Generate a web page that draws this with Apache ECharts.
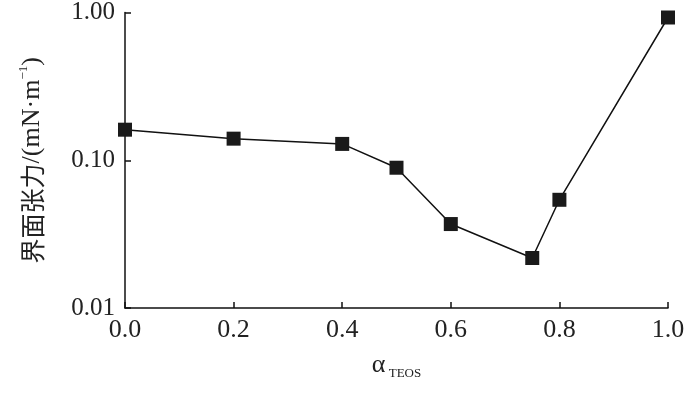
<!DOCTYPE html>
<html><head><meta charset="utf-8">
<script src="https://cdn.jsdelivr.net/npm/echarts@6/dist/echarts.min.js"></script>
<style>html,body{margin:0;padding:0;background:#fff}#c{width:700px;height:394px}</style>
</head><body><div id="c"></div>
<script>
var xValues = [0.0, 0.2, 0.4, 0.5, 0.6, 0.75, 0.8, 1.0];
var tension = [0.161, 0.140, 0.129, 0.089, 0.037, 0.0218, 0.054, 0.925];
var yTickLabels = {0.01: '0.01', 0.1: '0.10', 1: '1.00'};

var chart = echarts.init(document.getElementById('c'), null, {renderer: 'canvas'});
var serif = '"Liberation Serif", "Times New Roman", serif';
var cjk = '"Noto Sans CJK SC", sans-serif';
chart.setOption({
  animation: false,
  backgroundColor: '#fff',
  grid: {left: 125, right: 32, top: 12, bottom: 86},
  xAxis: {
    type: 'value', min: 0, max: 1, interval: 0.2,
    name: '{a|α}{s| TEOS}',
    nameLocation: 'middle', nameGap: 42,
    nameTextStyle: {
      rich: {
        a: {fontFamily: serif, fontSize: 26, color: '#222', lineHeight: 30, verticalAlign: 'middle'},
        s: {fontFamily: serif, fontSize: 13, color: '#222', lineHeight: 30, verticalAlign: 'bottom', padding: [10, 0, 0, 0]}
      }
    },
    axisLine: {lineStyle: {color: '#111', width: 1.5}},
    axisTick: {inside: true, length: 6, lineStyle: {color: '#111', width: 1.5}},
    axisLabel: {fontFamily: serif, fontSize: 26, color: '#222', margin: 9,
      formatter: function (v) { return v.toFixed(1); }},
    splitLine: {show: false}
  },
  yAxis: {
    type: 'log', logBase: 10, min: 0.01, max: 1,
    name: '{c|界面张力}{l|/(mN·m}{sup|−1}{l|)}',
    nameLocation: 'middle', nameGap: 78, nameRotate: 90,
    nameTextStyle: {
      rich: {
        c: {fontFamily: cjk, fontSize: 25, color: '#222', lineHeight: 30, verticalAlign: 'middle'},
        l: {fontFamily: serif, fontSize: 26, color: '#222', lineHeight: 30, verticalAlign: 'middle'},
        sup: {fontFamily: serif, fontSize: 13, color: '#222', lineHeight: 30, verticalAlign: 'top'}
      }
    },
    axisLine: {show: true, lineStyle: {color: '#111', width: 1.5}},
    axisTick: {inside: true, length: 6, lineStyle: {color: '#111', width: 1.5}},
    minorTick: {show: false},
    axisLabel: {fontFamily: serif, fontSize: 25, color: '#222', margin: 10,
      formatter: function (v) {
        var r = Math.round(Math.log10(v));
        return yTickLabels[Math.pow(10, r)] || v.toFixed(2);
      }},
    splitLine: {show: false}
  },
  series: [{
    type: 'line',
    data: xValues.map(function (x, i) { return [x, tension[i]]; }),
    symbol: 'rect', symbolSize: 14,
    itemStyle: {color: '#1a1a1a'},
    lineStyle: {color: '#111', width: 1.5}
  }]
});
</script></body></html>
